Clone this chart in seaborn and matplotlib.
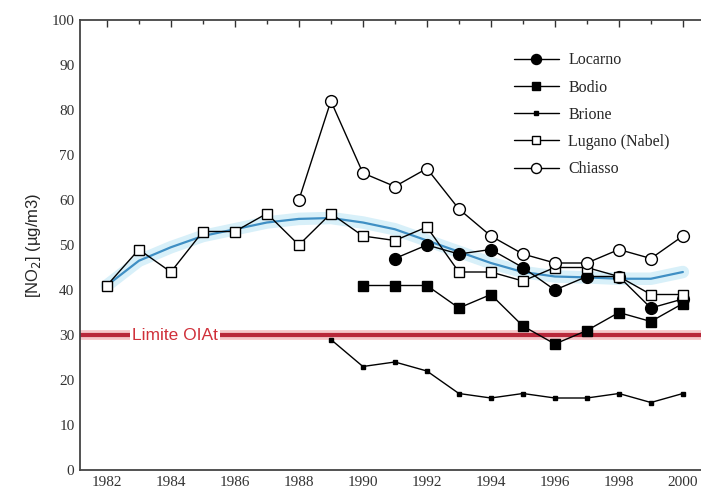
import numpy as np
import pandas as pd
import matplotlib
matplotlib.use("Agg")
import matplotlib.pyplot as plt
from matplotlib.ticker import MultipleLocator
import seaborn as sns

# Annual mean NO2 concentrations (µg/m3) at Ticino stations
locarno_years = [1991, 1992, 1993, 1994, 1995, 1996, 1997, 1998, 1999, 2000]
locarno_vals = [47, 50, 48, 49, 45, 40, 43, 43, 36, 38]

bodio_years = [1990, 1991, 1992, 1993, 1994, 1995, 1996, 1997, 1998, 1999, 2000]
bodio_vals = [41, 41, 41, 36, 39, 32, 28, 31, 35, 33, 37]

brione_years = [1989, 1990, 1991, 1992, 1993, 1994, 1995, 1996, 1997, 1998, 1999, 2000]
brione_vals = [29, 23, 24, 22, 17, 16, 17, 16, 16, 17, 15, 17]

lugano_years = list(range(1982, 2001))
lugano_vals = [41, 49, 44, 53, 53, 57, 50, 57, 52, 51, 54, 44, 44, 42, 45, 45, 43, 39, 39]

chiasso_years = list(range(1988, 2001))
chiasso_vals = [60, 82, 66, 63, 67, 58, 52, 48, 46, 46, 49, 47, 52]

# Smoothed trend
trend_years = list(range(1982, 2001))
trend_vals = [41, 46.5, 49.5, 52, 53.5, 55, 55.8, 56, 55, 53.5, 51, 48.5, 46,
              44, 43, 42.8, 42.5, 42.5, 44]

limit_value = 30
limit_label = "Limite OIAt"

tick_years = list(range(1982, 2001, 2))

sns.set_style("white")
plt.rcParams["font.family"] = ["Liberation Serif", "DejaVu Serif"]

fig = plt.figure(figsize=(7.01, 4.93), dpi=100)
ax = fig.add_axes([80 / 701, 23 / 493, 0.9, 450 / 493])

# trend band and line
sns.lineplot(x=trend_years, y=trend_vals, ax=ax, color="#bfe6f5", linewidth=9,
             alpha=0.6, zorder=1)
sns.lineplot(x=trend_years, y=trend_vals, ax=ax, color="#3f8fc4", linewidth=1.6,
             zorder=2)

# limit line
ax.axhline(limit_value, color="#f4c6c8", linewidth=7, zorder=1)
ax.axhline(limit_value, color="#b8283a", linewidth=3, zorder=2)
ax.text(1982.8, limit_value, limit_label, color="#d0303a", fontsize=12.5,
        family=["Liberation Sans", "DejaVu Sans"], va="center", ha="left",
        bbox=dict(facecolor="white", edgecolor="none", pad=1.5), zorder=3)

series = [
    ("Locarno", locarno_years, locarno_vals, "o", "black", 8.5),
    ("Bodio", bodio_years, bodio_vals, "s", "black", 7.5),
    ("Brione", brione_years, brione_vals, "s", "black", 3.5),
    ("Lugano (Nabel)", lugano_years, lugano_vals, "s", "white", 7.5),
    ("Chiasso", chiasso_years, chiasso_vals, "o", "white", 8.5),
]
for name, xs, ys, mk, fc, ms in series:
    sns.lineplot(x=xs, y=ys, ax=ax, color="black", linewidth=1.0, marker=mk,
                 markersize=ms, markerfacecolor=fc, markeredgecolor="black",
                 markeredgewidth=1.0, label=name, zorder=4)

ax.set_xlim(1981.16, 1981.16 + 0.9 * 701 / 32)
ax.set_ylim(0, 100)
ax.set_xticks(tick_years)
ax.set_xticklabels([str(y) for y in tick_years])
ax.xaxis.set_minor_locator(MultipleLocator(1))
ax.yaxis.set_major_locator(MultipleLocator(10))
ax.yaxis.set_minor_locator(MultipleLocator(5))
ax.tick_params(axis="both", which="both", direction="in", top=True, right=False,
               color="#333333")
ax.tick_params(which="major", length=5, width=1)
ax.tick_params(which="minor", length=3, width=1)
ax.tick_params(axis="both", labelsize=11, colors="#333333", pad=4)
for s in ["left", "bottom", "top", "right"]:
    ax.spines[s].set_color("#444444")
    ax.spines[s].set_linewidth(1.3)

ax.set_xlabel("")
ax.set_ylabel("[NO$_2$] (µg/m3)", fontsize=12,
              family=["Liberation Sans", "DejaVu Sans"], labelpad=6)

leg = ax.legend(loc="upper left", bbox_to_anchor=(0.665, 0.96), frameon=False,
                fontsize=11.5, handlelength=2.8, labelspacing=0.7,
                handletextpad=0.6, markerscale=0.85)

fig.savefig("out.png", dpi=100)
